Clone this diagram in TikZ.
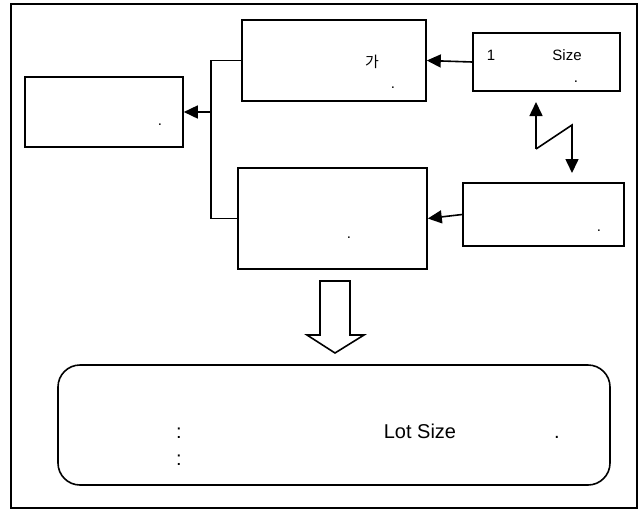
\documentclass[tikz,border=0pt]{standalone}
\usepackage{fontspec}
\setmainfont{Liberation Sans}
\newfontfamily\kor{Noto Sans CJK KR}
\usetikzlibrary{arrows.meta}
\begin{document}
\begin{tikzpicture}[x=1pt, y=-1pt, line join=miter, line width=1.6pt,
  blok/.style={draw, rectangle, inner sep=0pt},
  pijl/.style={-{Triangle[length=14pt, width=13pt]}},
  txt/.style={inner sep=0pt, font=\fontsize{15}{17}\selectfont},
  punt/.style={inner sep=0pt, anchor=base, font=\fontsize{15}{17}\selectfont}]
  \useasboundingbox (0,0) rectangle (644,512);
  % kader
  \draw (11,4) rectangle (637,508);
  % blokken
  \node[blok, minimum width=158pt, minimum height=70pt] (links) at (104,112) {};
  \node[blok, minimum width=184pt, minimum height=81pt] (boven) at (334,60.5) {};
  \node[blok, minimum width=147pt, minimum height=58pt] (size) at (546.5,62) {};
  \node[blok, minimum width=189pt, minimum height=101pt] (midden) at (332.5,218.5) {};
  \node[blok, minimum width=161pt, minimum height=63pt] (rechts) at (543.5,214.5) {};
  \node[blok, rounded corners=22pt, minimum width=552pt, minimum height=120pt] (lot) at (334,425) {};
  % teksten
  \node[txt] (ga) at (372,62) {\kor 가};
  \node[punt] (pb) at (393,88) {.};
  \node[txt] (een) at (491,55) {1};
  \node[txt] (sz) at (567,55) {Size};
  \node[punt] (ps) at (576,82) {.};
  \node[punt] (pl) at (160,125) {.};
  \node[punt] (pm) at (349,238) {.};
  \node[punt] (pr) at (599,231) {.};
  \node[txt, font=\fontsize{20}{23}\selectfont] (lotsz) at (420,431) {Lot Size};
  \node[punt, font=\fontsize{20}{23}\selectfont] (dp1) at (179,438) {:};
  \node[punt, font=\fontsize{20}{23}\selectfont] (dp2) at (179,465) {:};
  \node[punt, font=\fontsize{20}{23}\selectfont] (plot) at (557,438) {.};
  % verbindingen
  \coordinate (knik) at (211,112);
  \draw[pijl] (size.west) -- (boven.east);
  \draw[pijl] (boven.west) -| (knik) -- (links.east);
  \draw (midden.west) -| (knik);
  \draw[pijl] (rechts.west) -- (midden.east);
  % wisselpijl
  \coordinate (z1) at (536,149);
  \coordinate (z2) at (572,125);
  \draw[pijl] (z1) -- (536,102);
  \draw[pijl] (z1) -- (z2) -- (572,173);
  % holle pijl
  \draw (320,281) -- (350,281) -- (350,335) -- (364,335) -- (335,353)
    -- (307,335) -- (320,335) -- cycle;
\end{tikzpicture}
\end{document}
